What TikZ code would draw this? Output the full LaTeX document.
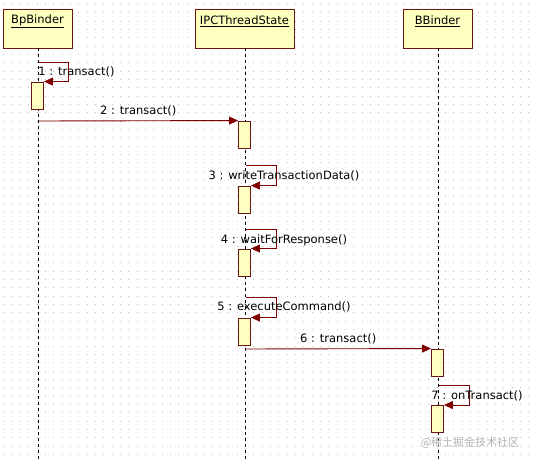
\documentclass[tikz,border=0pt]{standalone}
\usepackage{fontspec}
\setmainfont{DejaVu Sans}
\newfontfamily\cjk{Noto Sans CJK SC}
\usetikzlibrary{arrows.meta}
\definecolor{umlfill}{HTML}{FFFFC0}
\definecolor{umlline}{HTML}{6B1414}
\definecolor{msgline}{HTML}{800000}
\begin{document}
\begin{tikzpicture}[x=1pt,y=-1pt,
  objbox/.style={rectangle,draw=umlline,fill=umlfill,line width=0.9pt,minimum height=39pt,inner sep=0pt},
  objname/.style={font=\fontsize{11.5}{13}\selectfont,inner sep=0pt},
  actbox/.style={rectangle,draw=umlline,fill=umlfill,line width=0.9pt,minimum width=12pt,minimum height=27pt,inner sep=0pt},
  lifeline/.style={draw=black,line width=0.8pt,dash pattern=on 3pt off 3pt},
  msg/.style={draw=msgline,line width=0.9pt,-{Triangle[length=9pt,width=8pt]}},
  lbl/.style={font=\fontsize{11.5}{13}\selectfont,inner sep=0pt}]
\useasboundingbox (0,0) rectangle (533,462);
\fill[white] (0,0) rectangle (533,462);
\foreach \i in {0,...,63}
  \foreach \j in {0,...,55}
    \fill[black!25] (3.3+\i*8.333,4+\j*8.333) rectangle ++(1,1);

\node[objbox,minimum width=69pt] (bp) at (37.5,28.5) {};
\node[objbox,minimum width=99pt] (ipc) at (244.5,28.5) {};
\node[objbox,minimum width=69pt] (bb) at (437.5,28.5) {};
\node[objname] at ([yshift=-13pt]bp.north) {\underline{BpBinder}};
\node[objname] at ([yshift=-13pt]ipc.north) {\underline{IPCThreadState}};
\node[objname] at ([yshift=-13pt]bb.north) {\underline{BBinder}};

\coordinate (bottom) at (0,462);
\draw[lifeline] ([xshift=1pt]bp.south) -- ([xshift=1pt]bp.south |- bottom);
\draw[lifeline] ([xshift=1pt]ipc.south) -- ([xshift=1pt]ipc.south |- bottom);
\draw[lifeline] ([xshift=1pt]bb.south) -- ([xshift=1pt]bb.south |- bottom);

\node[actbox] (a1) at (37.5,95.5) {};
\node[actbox] (a2) at (244.5,134.5) {};
\node[actbox] (a3) at (244.5,199.5) {};
\node[actbox] (a4) at (244.5,262.5) {};
\node[actbox] (a5) at (244.5,331.5) {};
\node[actbox] (b1) at (437.5,362.5) {};
\node[actbox] (b2) at (437.5,419) {};

% self calls
\coordinate (s1) at (38.5,62);
\coordinate (s3) at (245.5,165);
\coordinate (s4) at (245.5,229);
\coordinate (s5) at (245.5,297);
\coordinate (s7) at (438.5,385);
\draw[msg] (s1) -- ++(30,0) coordinate (c1) |- (a1.north east);
\draw[msg] (s3) -- ++(30.5,0) coordinate (c3) |- (a3.north east);
\draw[msg] (s4) -- ++(30.5,0) coordinate (c4) |- (a4.north east);
\draw[msg] (s5) -- ++(30.5,0) coordinate (c5) |- (a5.north east);
\draw[msg] (s7) -- ++(30.5,0) coordinate (c7) |- (b2.north east);
\node[lbl] at ([xshift=8pt,yshift=-10pt]c1) {1 : transact()};
\node[lbl] at ([xshift=8pt,yshift=-11pt]c3) {3 : writeTransactionData()};
\node[lbl] at ([xshift=8pt,yshift=-11pt]c4) {4 : waitForResponse()};
\node[lbl] at ([xshift=8pt,yshift=-10pt]c5) {5 : executeCommand()};
\node[lbl] at ([xshift=8pt,yshift=-11pt]c7) {7 : onTransact()};

% calls between objects
\coordinate (m2) at (38.5,121);
\coordinate (m6) at (245.5,349);
\draw[msg] (m2) -- (a2.north west) node[lbl,midway,yshift=10pt] {2 : transact()};
\draw[msg] (m6) -- (b1.north west) node[lbl,midway,yshift=9.5pt] {6 : transact()};

\node[font=\cjk\fontsize{11}{13}\selectfont,text=black!30,inner sep=0pt] (mark) at (470,443) {@稀土掘金技术社区};
\end{tikzpicture}
\end{document}
